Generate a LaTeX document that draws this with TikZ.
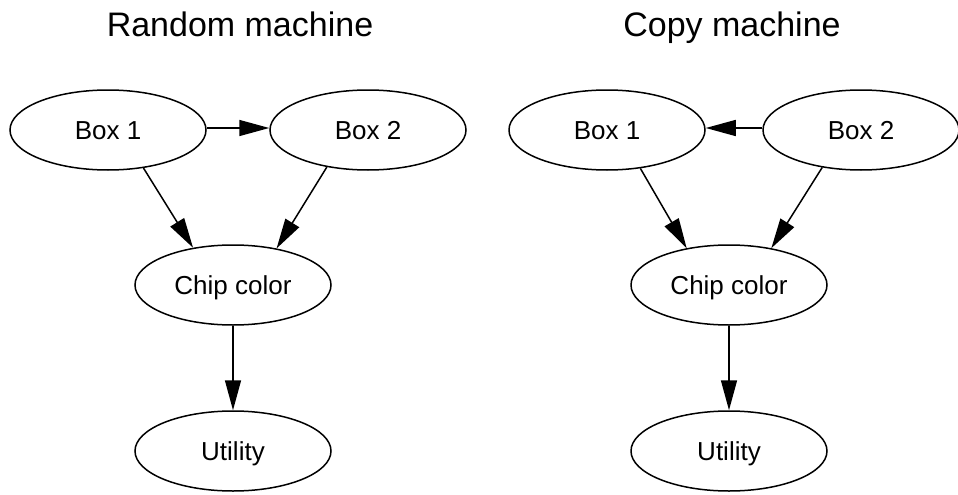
\documentclass[tikz,border=0pt]{standalone}
\usepackage{fontspec}
\setmainfont{Liberation Sans}
\usetikzlibrary{shapes.geometric,arrows.meta}
\begin{document}
\begin{tikzpicture}[x=1pt,y=-1pt,
  ell/.style={ellipse,draw,line width=1.5pt,minimum width=196pt,minimum height=80pt,inner sep=0pt,text height=19pt,text depth=0pt,font=\fontsize{26}{30}\selectfont},
  title/.style={font=\fontsize{34}{40}\selectfont,inner sep=0pt,anchor=base},
  arr/.style={line width=1.5pt,-{Triangle[length=30pt,width=16pt]}}]
\useasboundingbox (0,0) rectangle (958,495);
% left
\node[title] (t1) at (240,37) {Random machine};
\node[ell] (lb1) at (108,130) {Box 1};
\node[ell] (lb2) at (368,130) {Box 2};
\node[ell] (lc) at (233,285) {Chip color};
\node[ell] (lu) at (233,451) {Utility};
\draw[arr] ([yshift=2pt]lb1.east) -- ([yshift=2pt]lb2.west);
\draw[arr] (lb1.313) -- (lc.137);
\draw[arr] (lb2.222) -- (lc.40);
\draw[arr] (lc.south) -- (lu.north);
% right
\node[title] (t2) at (732,37) {Copy machine};
\node[ell] (rb1) at (607,130) {Box 1};
\node[ell] (rb2) at (861,130) {Box 2};
\node[ell] (rc) at (729,285) {Chip color};
\node[ell] (ru) at (729,451) {Utility};
\draw[arr] ([yshift=2pt]rb2.west) -- ([yshift=2pt]rb1.east);
\draw[arr] (rb1.311) -- (rc.139);
\draw[arr] (rb2.224) -- (rc.41);
\draw[arr] (rc.south) -- (ru.north);
\end{tikzpicture}
\end{document}
